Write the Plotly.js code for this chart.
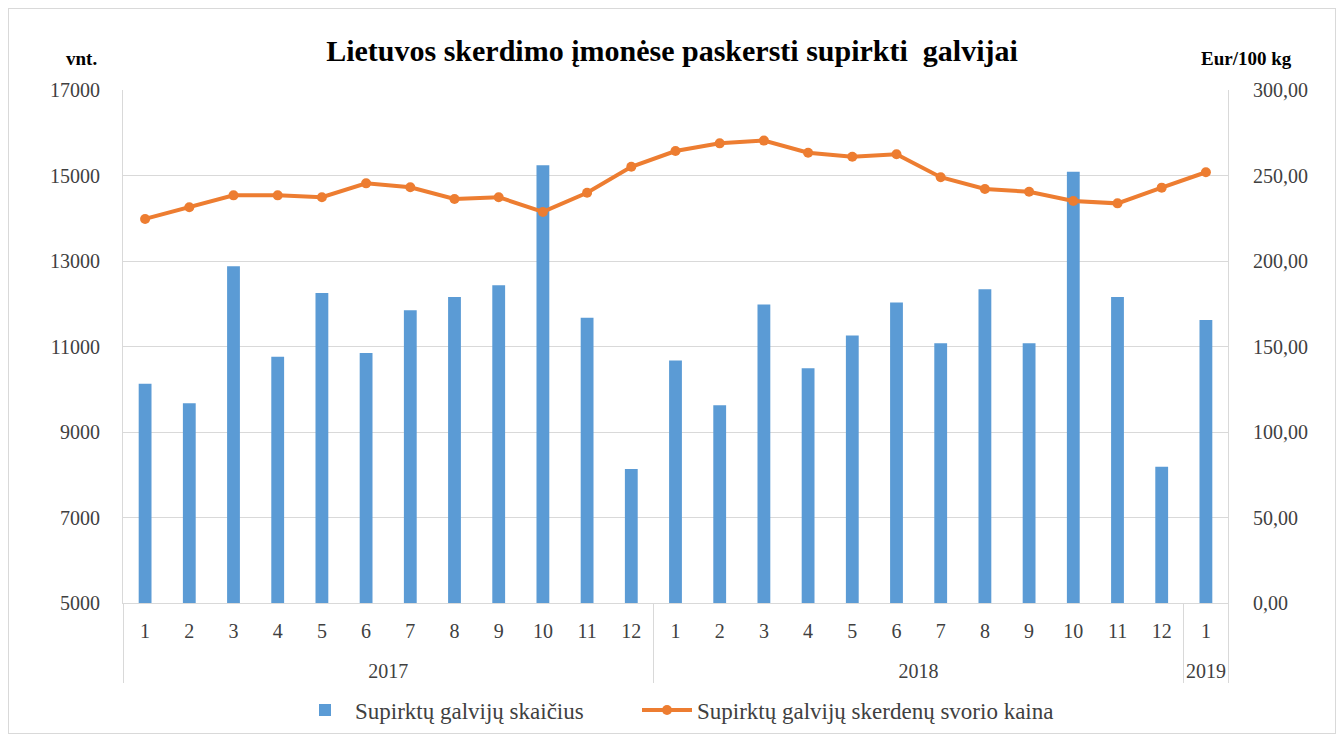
<!DOCTYPE html>
<html><head><meta charset="utf-8">
<script src="https://cdn.plot.ly/plotly-3.0.1.min.js"></script>
<style>
html,body{margin:0;padding:0;background:#fff}
#chart{width:1344px;height:738px}
#frame{position:absolute;left:8px;top:8px;width:1326px;height:724px;border:1px solid #d9d9d9;pointer-events:none}
</style>
</head><body><div id="chart"></div><div id="frame"></div>
<script>
const years = ['2017','2017','2017','2017','2017','2017','2017','2017','2017','2017','2017','2017',
               '2018','2018','2018','2018','2018','2018','2018','2018','2018','2018','2018','2018','2019'];
const months = ['1','2','3','4','5','6','7','8','9','10','11','12',
                '1','2','3','4','5','6','7','8','9','10','11','12','1'];
const counts = [10130, 9670, 12880, 10760, 12250, 10850, 11850, 12160, 12430, 15240, 11670, 8135,
                10670, 9625, 11980, 10490, 11260, 12030, 11075, 12340, 11075, 15090, 12160, 8190, 11620];
const prices = [224.6, 231.4, 238.4, 238.4, 237.3, 245.4, 243.1, 236.3, 237.3, 228.7, 239.9, 255.1,
                264.3, 268.8, 270.4, 263.3, 261.0, 262.4, 249.0, 242.1, 240.5, 235.1, 233.7, 242.9, 251.9];
const countName = 'Supirktų galvijų skaičius';
const priceName = 'Supirktų galvijų skerdenų svorio kaina';
const titleText = 'Lietuvos skerdimo įmonėse paskersti supirkti  galvijai';

const serif = '"Liberation Serif", "Times New Roman", serif';
const txt = '#404040';

// year labels sit one line lower than the month labels, as in the reference
const yearLabels = years.map(y => '<br>' + y);

const traces = [
  {type:'bar', x:[yearLabels, months], y:counts, name:countName, marker:{color:'#5b9bd5'}, width:0.29,
   yaxis:'y', legend:'legend'},
  {type:'scatter', mode:'lines+markers', x:[yearLabels, months], y:prices, name:priceName, yaxis:'y2',
   legend:'legend2', line:{color:'#ed7d31', width:4}, marker:{color:'#ed7d31', size:10}}
];

const legendBase = {orientation:'h', xref:'paper', yref:'container', xanchor:'left', y:1-710/738, yanchor:'middle',
                    itemwidth:50, font:{family:serif, size:23, color:txt}, bgcolor:'rgba(0,0,0,0)'};

const layout = {
  width:1344, height:738,
  margin:{l:123, r:116, t:90, b:135},
  paper_bgcolor:'#fff', plot_bgcolor:'#fff',
  separators:', ',
  font:{family:serif, size:20, color:txt},
  title:{text:'<b>'+titleText+'</b>', x:0.5, xanchor:'center', y:1-50/738, yanchor:'middle',
         font:{family:serif, size:30, color:'#000'}},
  showlegend:true,
  legend:Object.assign({}, legendBase, {x:(295-123)/1105}),
  legend2:Object.assign({}, legendBase, {x:(637-123)/1105}),
  xaxis:{type:'multicategory', range:[-0.5, 24.5], automargin:false, showline:true, linecolor:'#d9d9d9', linewidth:1, ticks:'',
         showdividers:true, dividercolor:'#d9d9d9', dividerwidth:1, ticklabelstandoff:10,
         tickfont:{family:serif, size:20, color:txt}},
  yaxis:{range:[5000,17000], dtick:2000, tick0:5000, tickformat:'d', showgrid:true, gridcolor:'#d9d9d9',
         automargin:false, showline:true, linecolor:'#d9d9d9', zeroline:false, ticks:'', ticklabelstandoff:18,
         tickfont:{family:serif, size:20, color:txt}},
  yaxis2:{range:[0,300], dtick:50, tick0:0, tickformat:'.2f', overlaying:'y', side:'right', showgrid:false,
          automargin:false, showline:true, linecolor:'#d9d9d9', zeroline:false, ticks:'', ticklabelstandoff:20,
          tickfont:{family:serif, size:20, color:txt}},
  annotations:[
    {text:'<b>vnt.</b>', xref:'paper', yref:'paper', x:(81-123)/1105, y:(603-58)/513, showarrow:false,
     xanchor:'center', yanchor:'middle', font:{family:serif, size:19, color:'#000'}},
    {text:'<b>Eur/100 kg</b>', xref:'paper', yref:'paper', x:(1246-123)/1105, y:(603-58)/513, showarrow:false,
     xanchor:'center', yanchor:'middle', font:{family:serif, size:19, color:'#000'}}
  ]
};

Plotly.newPlot('chart', traces, layout, {displayModeBar:false, staticPlot:true});
</script>
</body></html>
